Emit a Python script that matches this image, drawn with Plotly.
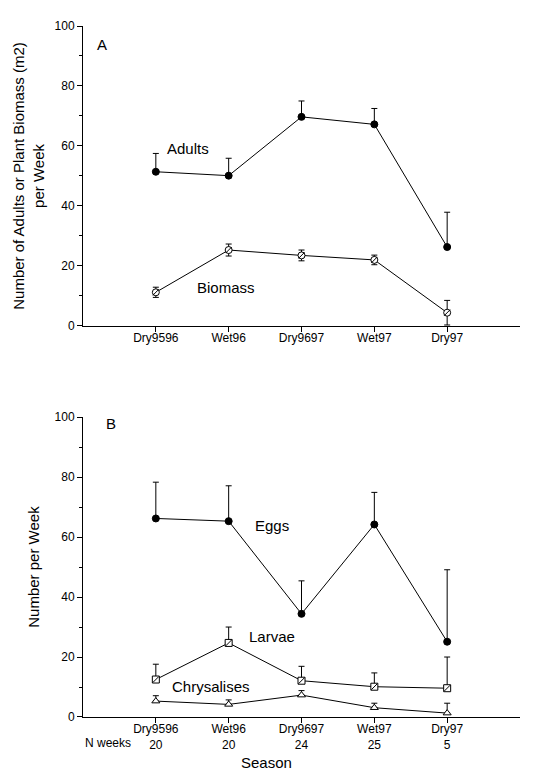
import plotly.graph_objects as go
from plotly.subplots import make_subplots

seasons = ["Dry9596", "Wet96", "Dry9697", "Wet97", "Dry97"]
n_weeks = [20, 20, 24, 25, 5]

adults = [51.4, 50.1, 69.7, 67.2, 26.3]
adults_err = [6.1, 5.8, 5.3, 5.3, 11.6]
biomass = [11.2, 25.3, 23.5, 22.0, 4.4]
biomass_err = [1.7, 2.0, 1.8, 1.6, 4.1]

eggs = [66.2, 65.3, 34.4, 64.2, 25.1]
eggs_err = [12.1, 11.8, 11.0, 10.7, 24.0]
larvae = [12.5, 24.7, 12.1, 10.1, 9.6]
larvae_err = [5.1, 5.3, 4.8, 4.6, 10.4]
chrys = [5.3, 4.2, 7.3, 3.1, 1.3]
chrys_err = [1.8, 1.5, 1.5, 1.5, 3.3]

xpos = list(range(1, len(seasons) + 1))
FONT = "Liberation Sans, Arial, sans-serif"
zeros = [0] * len(seasons)

fig = make_subplots(rows=2, cols=1, vertical_spacing=0.13)


def add(y, err, symbol, fill, row, sym_err=False, slash=False, size=7):
    if sym_err:
        ey = dict(type="data", array=err, symmetric=True, color="black", thickness=1, width=3)
    else:
        ey = dict(type="data", array=err, arrayminus=zeros, symmetric=False,
                  color="black", thickness=1, width=3)
    fig.add_trace(go.Scatter(
        x=xpos, y=y, mode="lines+markers",
        line=dict(color="black", width=1),
        marker=dict(symbol=symbol, size=size, color=fill,
                    line=dict(color="black", width=1)),
        error_y=ey, showlegend=False), row=row, col=1)
    if slash:
        fig.add_trace(go.Scatter(
            x=xpos, y=y, mode="markers",
            marker=dict(symbol="line-ne-open", size=size - 1, color="black",
                        line=dict(color="black", width=1)),
            showlegend=False, hoverinfo="skip"), row=row, col=1)


add(adults, adults_err, "circle", "black", 1)
add(biomass, biomass_err, "circle", "white", 1, sym_err=True, slash=True)
add(eggs, eggs_err, "circle", "black", 2)
add(larvae, larvae_err, "square", "white", 2, slash=True)
add(chrys, chrys_err, "triangle-up", "white", 2)

ax_common = dict(showline=True, linecolor="black", linewidth=1, showgrid=False,
                 zeroline=False, ticks="outside", ticklen=5, tickcolor="black",
                 tickfont=dict(family=FONT, size=12, color="black"))

fig.update_xaxes(range=[0, 6], tickvals=xpos, ticktext=seasons,
                 ticklabelstandoff=-4, **ax_common)
fig.update_xaxes(ticktext=[f"{s}<br>{n}" for s, n in zip(seasons, n_weeks)], row=2, col=1)

fig.update_yaxes(range=[0, 100], tickvals=[0, 20, 40, 60, 80, 100],
                 minor=dict(tickvals=[10, 30, 50, 70, 90], ticks="outside",
                            ticklen=3, tickcolor="black"),
                 title_font=dict(family=FONT, size=15, color="black"),
                 **ax_common)
fig.update_yaxes(title_text="Number of Adults or Plant Biomass (m2)<br>per Week",
                 title_standoff=6, row=1, col=1)
fig.update_yaxes(title_text="Number per Week", title_standoff=11, row=2, col=1)

fig.update_layout(
    width=544, height=772,
    margin=dict(l=69, r=32, t=11, b=63),
    paper_bgcolor="white", plot_bgcolor="white",
    font=dict(family=FONT, size=12, color="black"),
)
fig.update_yaxes(domain=[0.566, 1.0], row=1, col=1)
fig.update_yaxes(domain=[0.0, 0.434], row=2, col=1)

labels = [
    ("A", 0.26, 93.7, "x", "y"),
    ("Adults", 1.44, 59.0, "x", "y"),
    ("Biomass", 1.97, 12.9, "x", "y"),
    ("B", 0.39, 97.8, "x2", "y2"),
    ("Eggs", 2.59, 63.7, "x2", "y2"),
    ("Larvae", 2.59, 26.7, "x2", "y2"),
    ("Chrysalises", 1.76, 10.2, "x2", "y2"),
]
for t, x, y, xr, yr in labels:
    fig.add_annotation(text=t, x=x, y=y, xref=xr, yref=yr, showarrow=False,
                       font=dict(family=FONT, size=15, color="black"))

fig.add_annotation(text="N weeks", x=0.0, xref="x2", yref="paper", y=0,
                   yshift=-35, showarrow=False, xanchor="left",
                   font=dict(family=FONT, size=12, color="black"))
fig.add_annotation(text="Season", x=2.52, xref="x2", yref="paper", y=0,
                   yshift=-56, showarrow=False,
                   font=dict(family=FONT, size=15, color="black"))

fig.write_html("out.html")
